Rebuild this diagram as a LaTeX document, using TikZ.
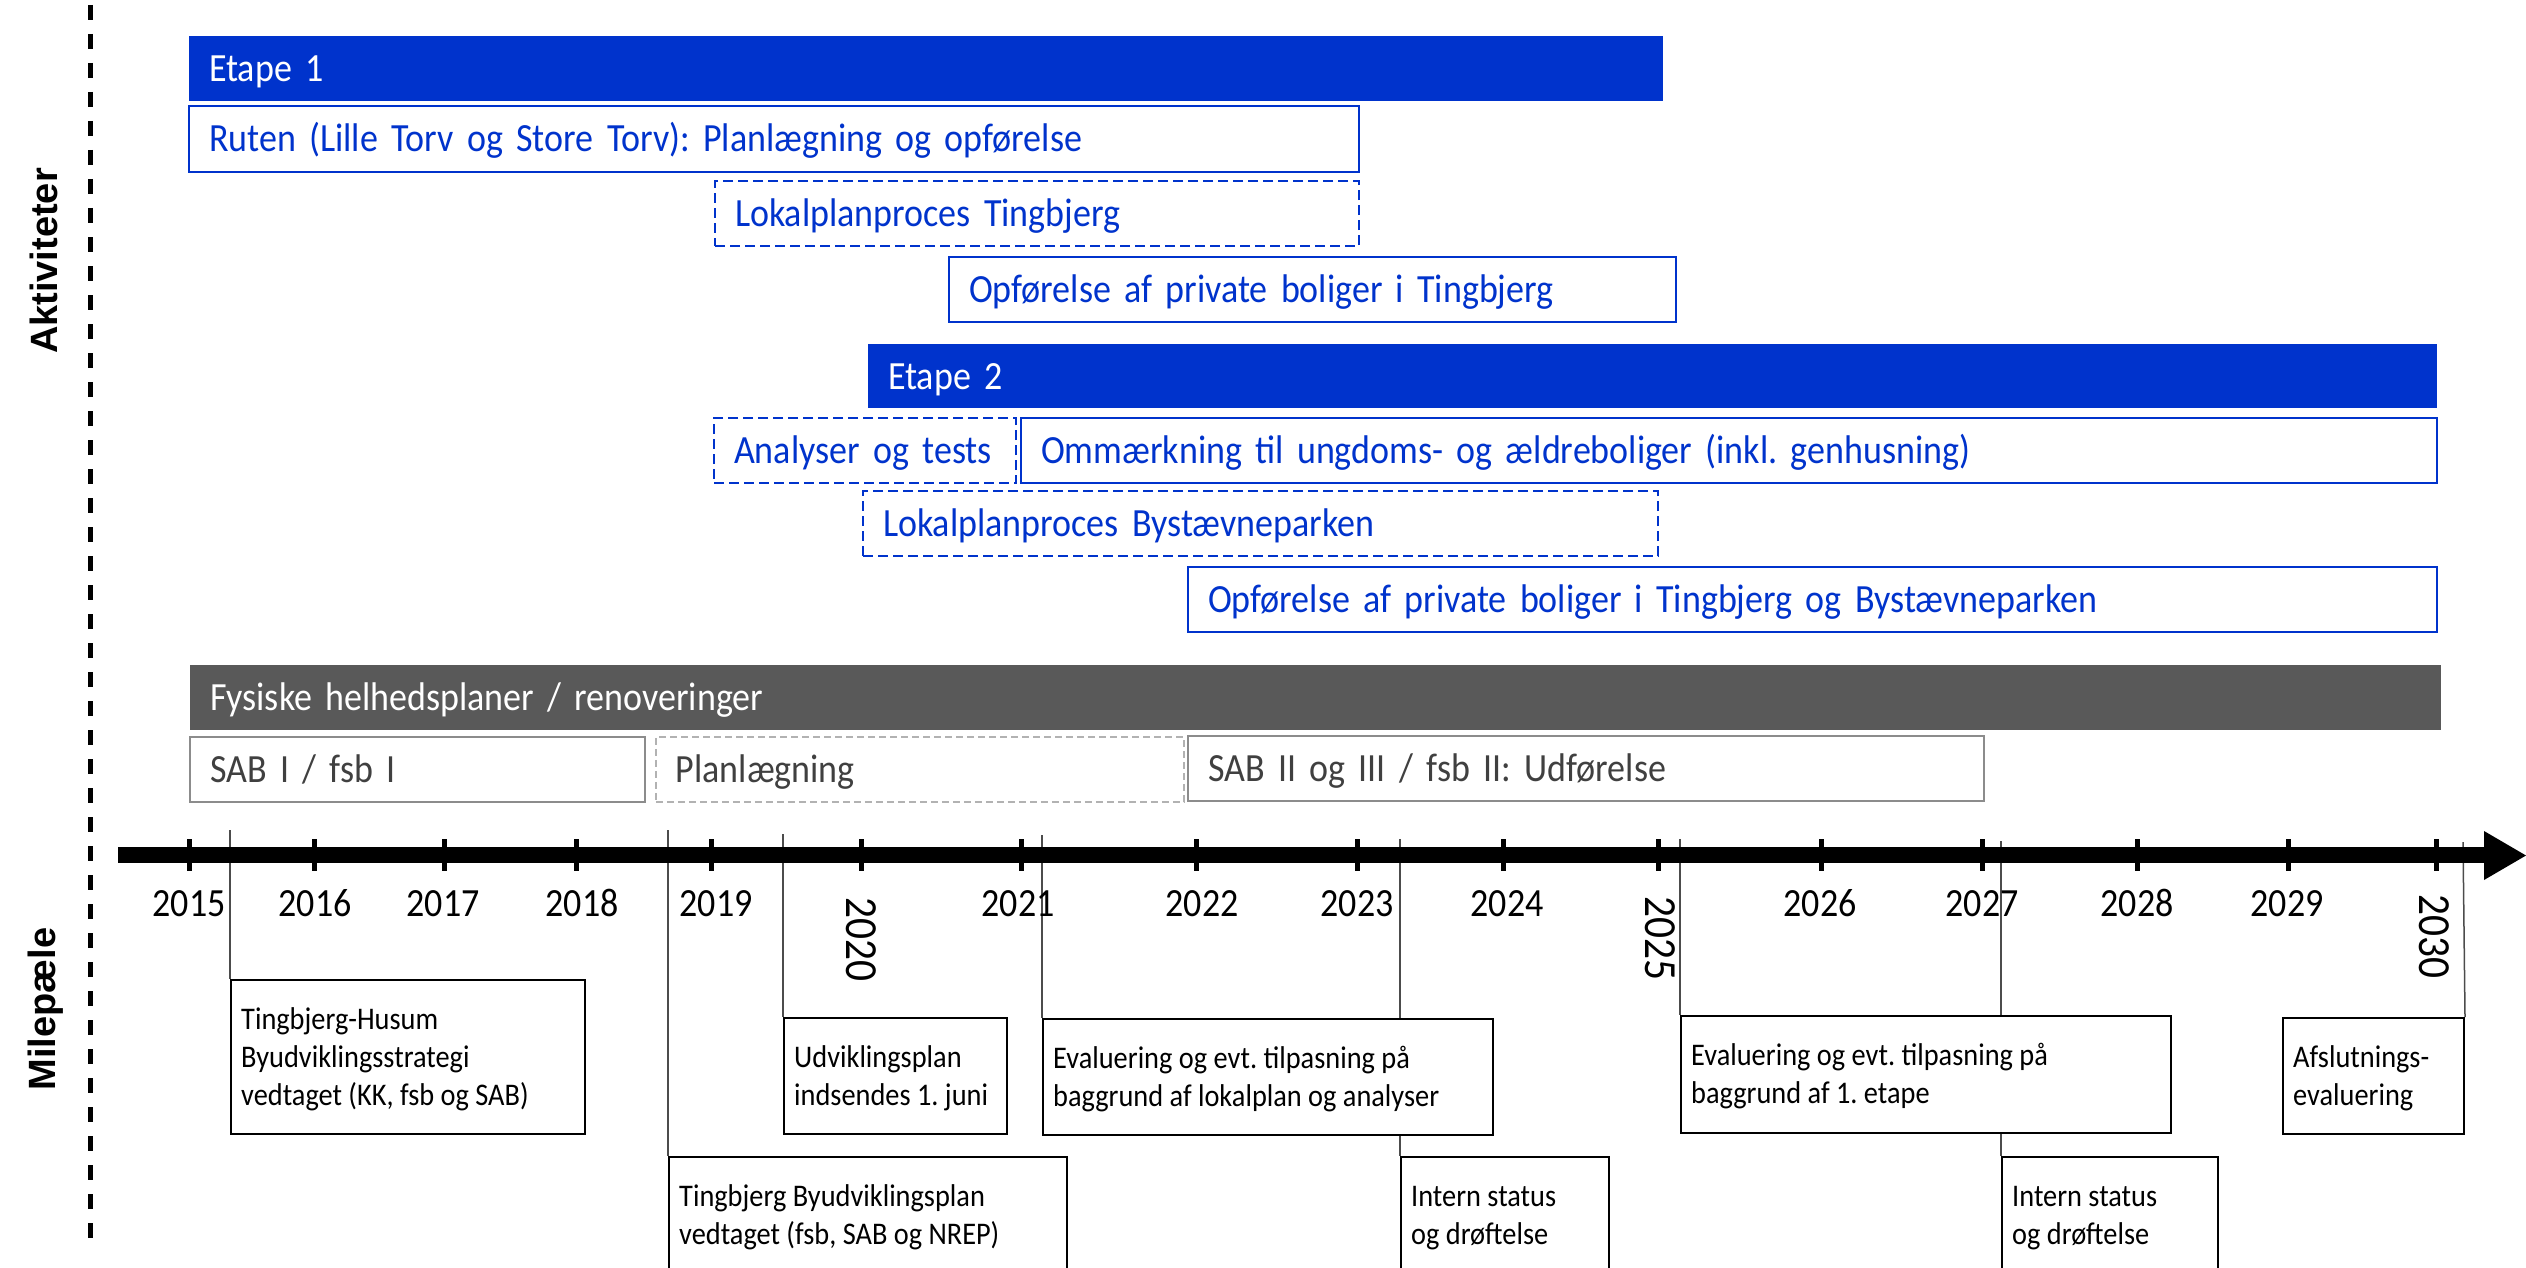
\documentclass[tikz,border=0pt]{standalone}
\usepackage{fontspec}
\setmainfont{Carlito}[FakeStretch=0.9]
\newfontfamily\lblfont{Liberation Sans}
\usetikzlibrary{calc}
\definecolor{eblue}{HTML}{0033CC}
\definecolor{egray}{HTML}{595959}
\definecolor{btxt}{HTML}{404040}
\newcommand\barfont{\fontsize{40}{48}\selectfont}
\newcommand\msfont{\fontsize{31.5}{38}\selectfont}
\newcommand\yrfont{\fontsize{40}{48}\selectfont}
\newcommand\ryfont{\fontsize{46}{52}\selectfont}
\pgfdeclarelayer{background}
\pgfsetlayers{background,main}
\tikzset{
  basebox/.style={anchor=north west, inner xsep=20pt, inner ysep=0pt, align=left,
    text height=35.8pt, text depth=10pt, font=\barfont, line width=2.2pt},
  bluefill/.style={basebox, fill=eblue, text=white},
  blueline/.style={basebox, draw=eblue, fill=white, text=eblue},
  bluedash/.style={blueline, dash pattern=on 10pt off 5pt},
  grayfill/.style={basebox, fill=egray, text=white},
  grayline/.style={basebox, draw=gray!90, text=btxt},
  graydash/.style={basebox, draw=gray!60, line width=1.6pt, dash pattern=on 7pt off 4pt, text=btxt},
  msbox/.style={draw=black, line width=2pt, fill=white, inner sep=0pt, anchor=north west},
  mstext/.style={anchor=base west, inner sep=0pt, font=\msfont},
  conn/.style={draw=black!70, line width=1.5pt},
  yearlbl/.style={anchor=base, inner sep=0pt, font=\yrfont},
  ryearlbl/.style={anchor=base, inner sep=0pt, rotate=-90, font=\ryfont},
  ticklin/.style={line width=5pt},
  sidelbl/.style={anchor=base, inner sep=0pt, rotate=90, font={\lblfont\bfseries\fontsize{38}{40}\selectfont}}
}
\newcommand\actbox[7]{%
  \pgfmathsetmacro\abW{#5-(#3)}%
  \pgfmathsetmacro\abH{#6-(#4)}%
  \pgfmathsetmacro\abT{#5-(#3)-40}%
  \node[#1, minimum width=\abW pt, minimum height=\abH pt, text width=\abT pt] (#2) at (#3,#4) {#7};}
\newcommand\milestone[6]{%
  \pgfmathsetmacro\abW{#4-(#2)}%
  \pgfmathsetmacro\abH{#5-(#3)}%
  \node[msbox, minimum width=\abW pt, minimum height=\abH pt] (#1) at (#2,#3) {};
  \node[mstext] (#1t) at ($(#1.north west)+(11,50)$) {\parbox[t]{600pt}{#6}};}
\frenchspacing
\begin{document}
\frenchspacing
\begin{tikzpicture}[x=1pt,y=-1pt]
\useasboundingbox (0,0) rectangle (2526,1268);
\clip (0,0) rectangle (2526,1268);
% left dashed separator
\draw[line width=5pt, dash pattern=on 15pt off 14pt] (90,5) -- (90,1240);
\node[sidelbl] (akt) at (57,261) {Aktiviteter};
\node[sidelbl] (mil) at (55,1009) {Milepæle};
% activity bars
\actbox{bluefill}{e1}{188}{35}{1662}{100}{Etape 1}
\actbox{blueline}{ruten}{188}{105}{1358}{171}{Ruten (Lille Torv og Store Torv): Planlægning og opførelse}
\actbox{bluedash}{lpt}{714}{180}{1358}{245}{Lokalplanproces Tingbjerg}
\actbox{blueline}{opt}{948}{256}{1675}{321}{Opførelse af private boliger i Tingbjerg}
\actbox{bluefill}{e2}{867}{343}{2436}{407}{Etape 2}
\actbox{bluedash}{ana}{713}{417}{1015}{482}{Analyser og tests}
\actbox{blueline}{omm}{1020}{417}{2436}{482}{Ommærkning til ungdoms- og ældreboliger (inkl. genhusning)}
\actbox{bluedash}{lpb}{862}{490}{1657}{555}{Lokalplanproces Bystævneparken}
\actbox{blueline}{opb}{1187}{566}{2436}{631}{Opførelse af private boliger i Tingbjerg og Bystævneparken}
\actbox{grayfill}{fys}{189}{664}{2440}{729}{Fysiske helhedsplaner / renoveringer}
\actbox{grayline}{sab1}{189}{736}{644}{801}{SAB I / fsb I}
\actbox{graydash}{plan}{655}{736}{1183}{801}{Planlægning}
\actbox{grayline}{sab2}{1187}{735}{1983}{800}{SAB II og III / fsb II: Udførelse}
% timeline axis
\coordinate (ax0) at (118,855);
\coordinate (ax1) at (2486,855);
\draw[line width=16pt] (ax0) -- (ax1);
\fill (2484,831) -- (2526,855.5) -- (2484,880) -- cycle;
\foreach \x in {189,314,444,576,711,861,1021,1196,1357,1503,1658,1821,1982,2137,2288,2436}
  \draw[ticklin] (\x,839) -- (\x,871);
\foreach \x/\t in {189/2015,315/2016,443/2017,582/2018,716/2019,1018/2021,1202/2022,1357/2023,1507/2024,1820/2026,1982/2027,2137/2028,2287/2029}
  \node[yearlbl] (y\t) at (\x,916) {\t};
\node[ryearlbl] (y2020) at (846,939) {2020};
\node[ryearlbl] (y2025) at (1645,938) {2025};
\node[ryearlbl] (y2030) at (2419,936) {2030};
% milestones
\milestone{m1}{230}{979}{584}{1133}{Tingbjerg-Husum\\Byudviklingsstrategi\\vedtaget (KK, fsb og SAB)}
\milestone{m2}{668}{1156}{1066}{1300}{Tingbjerg Byudviklingsplan\\vedtaget (fsb, SAB og NREP)}
\milestone{m3}{783}{1017}{1006}{1133}{Udviklingsplan\\indsendes 1. juni}
\milestone{m4}{1042}{1018}{1492}{1134}{Evaluering og evt. tilpasning på\\baggrund af lokalplan og analyser}
\milestone{m5}{1400}{1156}{1608}{1300}{Intern status\\og drøftelse}
\milestone{m6}{1680}{1015}{2170}{1132}{Evaluering og evt. tilpasning på\\baggrund af 1. etape}
\milestone{m7}{2001}{1156}{2217}{1300}{Intern status\\og drøftelse}
\milestone{m8}{2282}{1017}{2463}{1133}{Afslutnings-\\evaluering}
\begin{pgfonlayer}{background}
\coordinate (c1) at (230,830);
\coordinate (c2) at (668,830);
\coordinate (c3) at (783,834);
\coordinate (c4) at (1042,835);
\coordinate (c5) at (1400,839);
\coordinate (c6) at (1680,839);
\coordinate (c7) at (2001,841);
\coordinate (c8) at (2463,842);
\draw[conn] (c1) -- (m1.north west);
\draw[conn] (c2) -- (m2.north west);
\draw[conn] (c3) -- (m3.north west);
\draw[conn] (c4) -- (m4.north west);
\draw[conn] (c5) -- (m5.north west);
\draw[conn] (c6) -- (m6.north west);
\draw[conn] (c7) -- (m7.north west);
\draw[conn] (c8) -- (m8.north east);
\end{pgfonlayer}
\end{tikzpicture}
\end{document}
